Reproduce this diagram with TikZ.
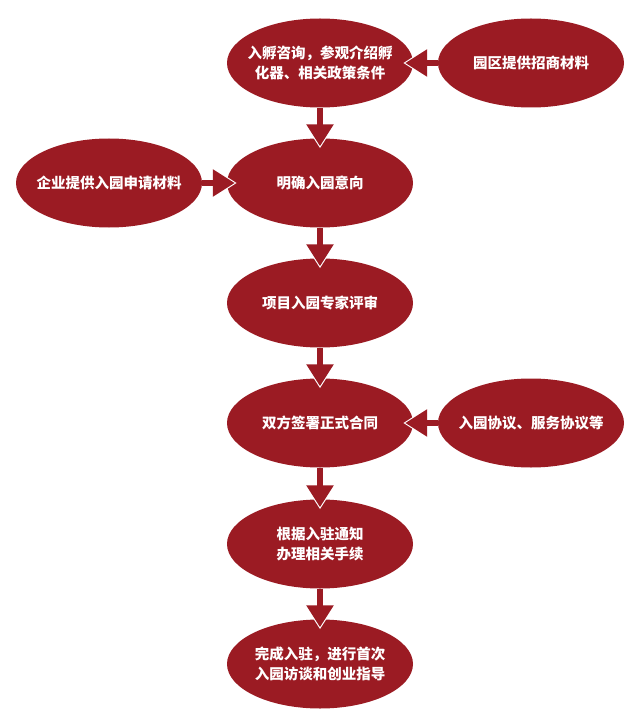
\documentclass[tikz,border=0pt]{standalone}
\usepackage{fontspec}
\newfontfamily\cjk{Noto Sans CJK SC}
\usetikzlibrary{shapes.geometric, arrows.meta}
\definecolor{flowred}{RGB}{155,27,35}

\begin{document}
\begin{tikzpicture}[
    x=1pt, y=-1pt,
    stage/.style={ellipse, fill=flowred, minimum width=186pt, minimum height=89pt, inner xsep=-12pt, inner ysep=0pt,
      align=center, text=white, font=\cjk\bfseries\fontsize{14.5}{20}\selectfont},
    side/.style={stage},
    arrow/.style={draw=flowred, line width=6pt, -{Triangle[width=26pt, length=22pt]}, shorten >=-8pt,
      preaction={draw=white, line width=6pt, -{Triangle[width=30pt, length=25pt]}, shorten >=-10pt}}
  ]
  \useasboundingbox (0,0) rectangle (640,727);

  % Main column
  \node[stage] (consult) at (320,63) {入孵咨询，参观介绍孵\\化器、相关政策条件};
  \node[stage] (intent) at (320,183) {明确入园意向};
  \node[stage] (review) at (320,303) {项目入园专家评审};
  \node[stage] (contract) at (320,423) {双方签署正式合同};
  \node[stage] (procedure) at (320,544) {根据入驻通知\\办理相关手续};
  \node[stage] (settle) at (320,664) {完成入驻，进行首次\\入园访谈和创业指导};

  % Side inputs
  \node[side] (material) at (531,63) {园区提供招商材料};
  \node[side] (apply) at (109,183) {企业提供入园申请材料};
  \node[side] (agreement) at (531,423) {入园协议、服务协议等};

  % Flow
  \draw[arrow] (consult) -- (intent);
  \draw[arrow] (intent) -- (review);
  \draw[arrow] (review) -- (contract);
  \draw[arrow] (contract) -- (procedure);
  \draw[arrow] (procedure) -- (settle);

  \draw[arrow] (material) -- (consult);
  \draw[arrow] (apply) -- (intent);
  \draw[arrow] (agreement) -- (contract);

\end{tikzpicture}
\end{document}
